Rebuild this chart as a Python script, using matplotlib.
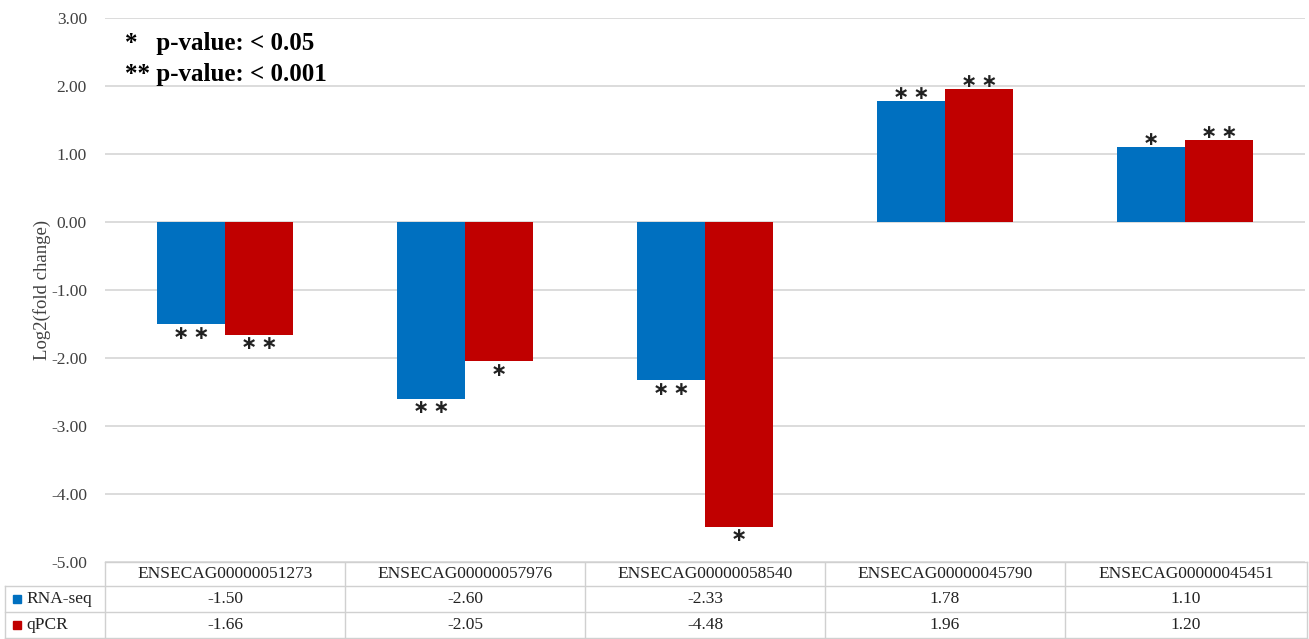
import matplotlib
matplotlib.use("Agg")
import matplotlib.pyplot as plt
import numpy as np

plt.rcParams['font.family'] = ['Liberation Serif', 'DejaVu Serif']

genes = ['ENSECAG00000051273', 'ENSECAG00000057976', 'ENSECAG00000058540',
         'ENSECAG00000045790', 'ENSECAG00000045451']
rnaseq = [-1.50, -2.60, -2.33, 1.78, 1.10]
qpcr = [-1.66, -2.05, -4.48, 1.96, 1.20]
rnaseq_sig = ['**', '**', '**', '**', '*']
qpcr_sig = ['**', '*', '*', '**', '**']
series_names = ['RNA-seq', 'qPCR']
yticks = [-5, -4, -3, -2, -1, 0, 1, 2, 3]

BLUE = '#0070C0'
RED = '#C00000'
GRID = '#D9D9D9'

W, H = 1309, 639
fig = plt.figure(figsize=(W / 100, H / 100), dpi=100)

# plot area in pixels
L, R, T, B = 105, 1305, 18, 562
ax = fig.add_axes([L / W, (H - B) / H, (R - L) / W, (B - T) / H])

x = np.arange(len(genes))
bw = 0.283
ax.bar(x - bw / 2, rnaseq, bw, color=BLUE, zorder=3)
ax.bar(x + bw / 2, qpcr, bw, color=RED, zorder=3)


def star_label(xi, v, s):
    txt = '\u2009'.join(['\u2217'] * len(s))
    dy = 5.5 if v > 0 else -6.5
    ax.annotate(txt, (xi, v), xytext=(0, dy), textcoords='offset points',
                ha='center', va='center', fontsize=14, fontweight='bold',
                color='#222222', family='DejaVu Sans')


for xi, v, s in zip(x - bw / 2, rnaseq, rnaseq_sig):
    star_label(xi, v, s)
for xi, v, s in zip(x + bw / 2, qpcr, qpcr_sig):
    star_label(xi, v, s)

ax.set_xlim(-0.5, len(genes) - 0.5)
ax.set_ylim(-5, 3)
ax.set_yticks(yticks)
ax.set_yticklabels([f'{t:.2f}' for t in yticks], fontsize=12.5, color='#404040')
ax.set_xticks([])
ax.tick_params(axis='y', length=0, pad=13)
for sp in ax.spines.values():
    sp.set_visible(False)
ax.grid(axis='y', color=GRID, lw=1.3, zorder=0)
ax.set_axisbelow(True)
ax.set_ylabel('Log2(fold change)', fontsize=13.5, color='#404040', labelpad=0)

# p-value note
ax.text(0.017, 0.975, '*   p-value: < 0.05', transform=ax.transAxes,
        fontsize=18, fontweight='bold', va='top')
ax.text(0.017, 0.918, '** p-value: < 0.001', transform=ax.transAxes,
        fontsize=18, fontweight='bold', va='top')

# data table below the plot, drawn in pixel coordinates
tax = fig.add_axes([0, 0, 1, 1], zorder=-1)
tax.set_xlim(0, W)
tax.set_ylim(H, 0)
tax.axis('off')

col_w = (R - L) / len(genes)
cols = [L + i * col_w for i in range(len(genes) + 1)]
cols[-1] = 1307
rows = [562, 586, 612, 638]
lc = '#D0D0D0'
tax.plot([L, cols[-1]], [rows[0], rows[0]], color=lc, lw=1)
for yv in rows[1:]:
    tax.plot([5, cols[-1]], [yv, yv], color=lc, lw=1)
for xv in cols:
    tax.plot([xv, xv], [rows[0], rows[-1]], color=lc, lw=1)
tax.plot([5, 5], [rows[1], rows[-1]], color=lc, lw=1)

fs = 12.5
for i, g in enumerate(genes):
    cx = (cols[i] + cols[i + 1]) / 2
    tax.text(cx, (rows[0] + rows[1]) / 2, g, ha='center', va='center', fontsize=fs, color='#222222')
    tax.text(cx, (rows[1] + rows[2]) / 2, f'{rnaseq[i]:.2f}', ha='center', va='center', fontsize=fs, color='#222222')
    tax.text(cx, (rows[2] + rows[3]) / 2, f'{qpcr[i]:.2f}', ha='center', va='center', fontsize=fs, color='#222222')

for j, (name, c) in enumerate(zip(series_names, [BLUE, RED])):
    cy = (rows[j + 1] + rows[j + 2]) / 2
    tax.add_patch(plt.Rectangle((13, cy - 4), 8, 8, color=c))
    tax.text(26, cy, name, ha='left', va='center', fontsize=fs, color='#222222')

fig.savefig('out.png', dpi=100)
